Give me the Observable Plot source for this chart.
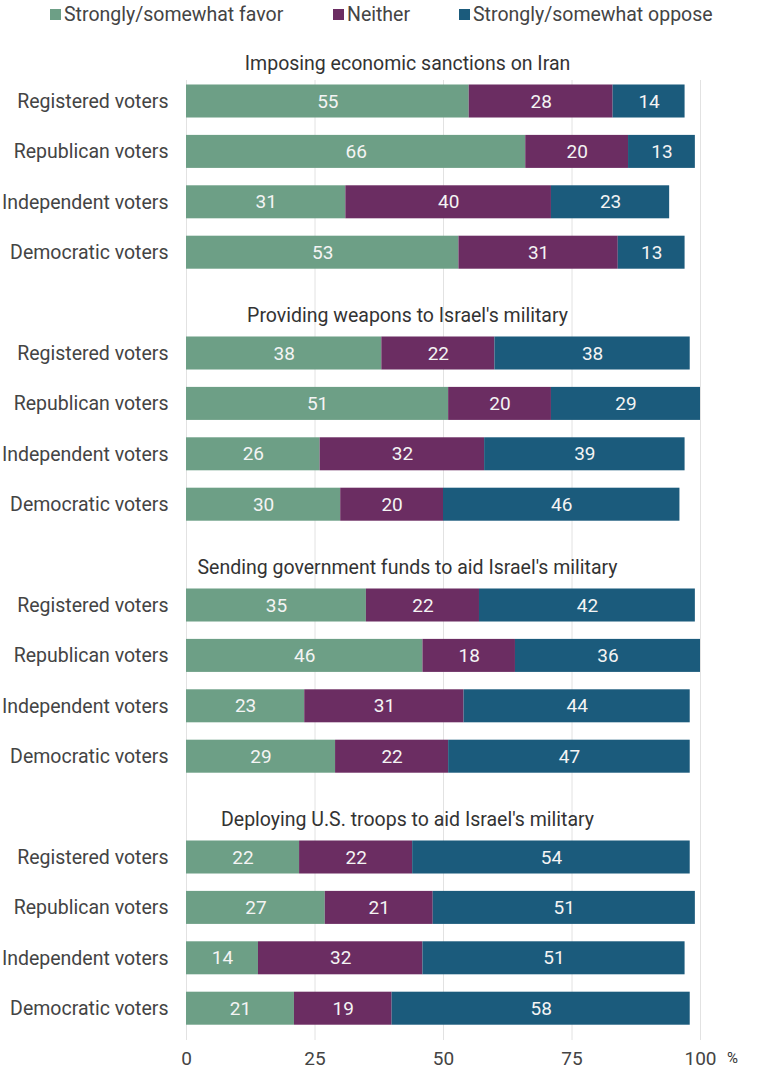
<!DOCTYPE html>
<html>
<head>
<meta charset="utf-8">
<script src="https://cdn.jsdelivr.net/npm/d3@7"></script>
<script src="https://cdn.jsdelivr.net/npm/@observablehq/plot@0.6"></script>
<style>
  body { margin: 0; background: #fff; font-family: Roboto, sans-serif; }
  #legend { height: 30px; font-size: 19.5px; color: #444; position: relative; }
  .item { position: absolute; top: 3px; display: flex; align-items: center; white-space: nowrap; }
  .sw { width: 11px; height: 11px; margin-right: 3px; display: inline-block; }
</style>
</head>
<body>
<div id="legend"></div>
<div id="chart"></div>
<script>
const questions = [
  "Imposing economic sanctions on Iran",
  "Providing weapons to Israel's military",
  "Sending government funds to aid Israel's military",
  "Deploying U.S. troops to aid Israel's military"
];
const groups = ["Registered voters", "Republican voters", "Independent voters", "Democratic voters"];
const responses = ["Strongly/somewhat favor", "Neither", "Strongly/somewhat oppose"];
const colors = ["#6d9f86", "#6b2d62", "#1b5b7c"];

// values per question: [group][favor, neither, oppose]
const favor = [
  [55, 66, 31, 53],
  [38, 51, 26, 30],
  [35, 46, 23, 29],
  [22, 27, 14, 21]
];
const neither = [
  [28, 20, 40, 31],
  [22, 20, 32, 20],
  [22, 18, 31, 22],
  [22, 21, 32, 19]
];
const oppose = [
  [14, 13, 23, 13],
  [38, 29, 39, 46],
  [42, 36, 44, 47],
  [54, 51, 51, 58]
];
const xTicks = [0, 25, 50, 75, 100];

// Build legend
const leg = document.getElementById("legend");
const legX = [50, 333, 459];
responses.forEach((r, i) => {
  const d = document.createElement("div");
  d.className = "item";
  d.style.left = legX[i] + "px";
  d.innerHTML = `<span class="sw" style="background:${colors[i]}"></span>${r}`;
  leg.appendChild(d);
});

// Rows: each question has a title slot + 4 group slots
const slots = [];
questions.forEach((q, qi) => {
  slots.push(`t${qi}`);
  groups.forEach(g => slots.push(`r${qi}|${g}`));
});

const segs = [];
questions.forEach((q, qi) => {
  groups.forEach((g, gi) => {
    const vals = [favor[qi][gi], neither[qi][gi], oppose[qi][gi]];
    let acc = 0;
    vals.forEach((v, ri) => {
      segs.push({row: `r${qi}|${g}`, response: responses[ri], x1: acc, x2: acc + v, value: v});
      acc += v;
    });
  });
});
const titles = questions.map((q, qi) => ({row: `t${qi}`, text: q}));

const step = 50.4, p = 0.345, n = slots.length;
const c0 = 20.6;
const r0 = c0 - step * (1 + p) / 2;
const r1 = r0 + step * (n + p);

const chart = Plot.plot({
  width: 762,
  height: 1050,
  marginLeft: 186,
  marginRight: 62,
  marginTop: 50,
  marginBottom: 40,
  style: {fontFamily: "Roboto, sans-serif", fontSize: "19.5px", color: "#444", background: "#fff"},
  x: {domain: [0, 100], axis: null},
  y: {domain: slots, range: [r0, r1], padding: p, round: false, axis: null},
  color: {domain: responses, range: colors},
  marks: [
    Plot.ruleX(xTicks, {stroke: "#e2e2e2", strokeWidth: 1}),
    Plot.rectX(segs, {y: "row", x1: "x1", x2: "x2", fill: "response"}),
    Plot.text(segs, {y: "row", x: d => (d.x1 + d.x2) / 2, text: d => String(d.value), fill: "#f4f4f4", fontSize: 19}),
    Plot.text(titles, {y: "row", x: 43, text: "text", fill: "#333", fontSize: 19.5, dy: 13}),
    Plot.axisY({
      label: null, tickSize: 0, tickPadding: 18, fontSize: 19.5, fill: "#444",
      tickFormat: d => d.startsWith("t") ? "" : d.split("|")[1]
    }),
    Plot.axisX(xTicks, {tickSize: 0, tickPadding: 11, fontSize: 19, fill: "#444", label: null, tickFormat: d => String(d)}),
    Plot.text(["%"], {x: 100, frameAnchor: "bottom", dx: 32, dy: 22, fill: "#333", fontSize: 15})
  ]
});
document.getElementById("chart").appendChild(chart);
</script>
</body>
</html>
